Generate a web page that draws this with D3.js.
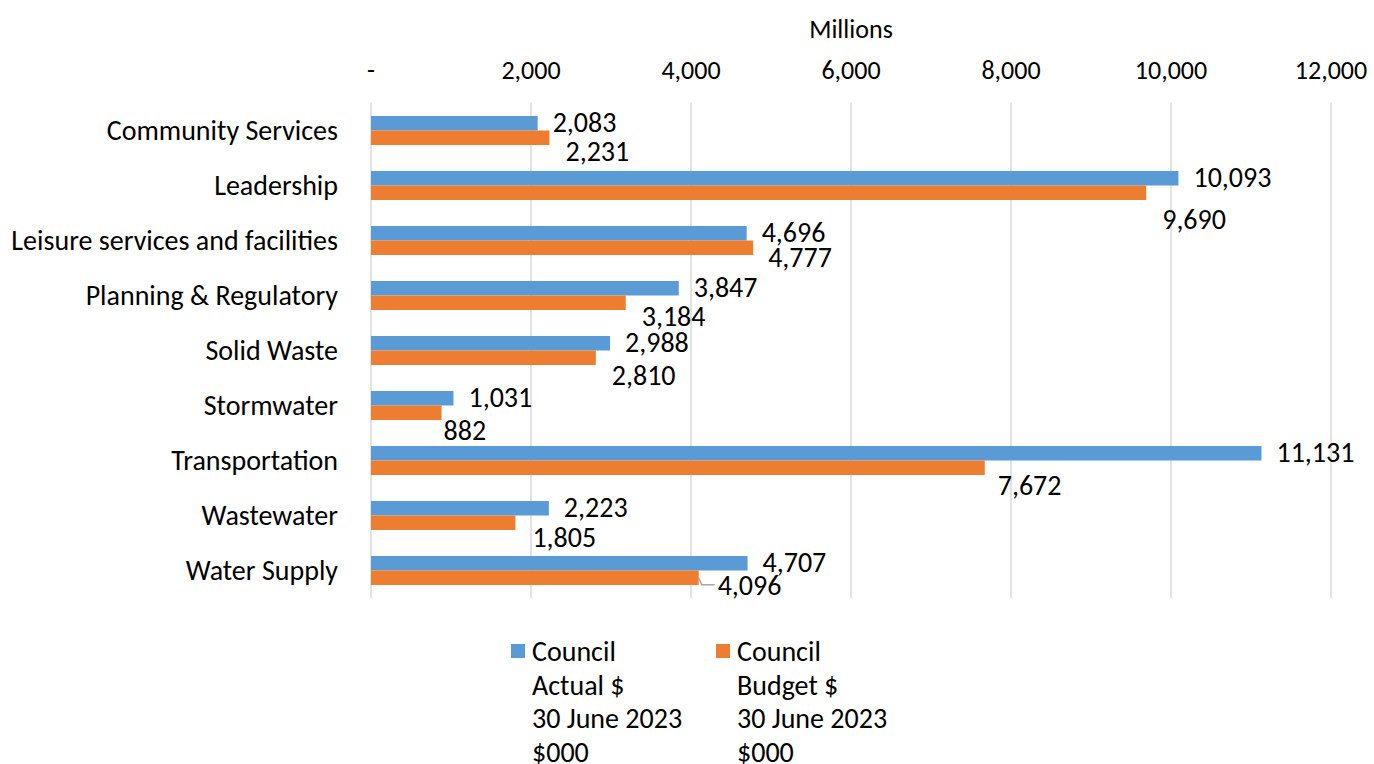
<!DOCTYPE html>
<html>
<head>
<meta charset="utf-8">
<script src="https://cdn.jsdelivr.net/npm/d3@7"></script>
<style>
  body { margin: 0; background: #fff; }
  text { font-family: Carlito, Calibri, Lato, sans-serif; fill: #000; }
</style>
</head>
<body>
<div id="container"></div>
<script>
const categories = ["Community Services", "Leadership", "Leisure services and facilities",
  "Planning & Regulatory", "Solid Waste", "Stormwater", "Transportation", "Wastewater", "Water Supply"]
const actual = [2083, 10093, 4696, 3847, 2988, 1031, 11131, 2223, 4707]
const budget = [2231, 9690, 4777, 3184, 2810, 882, 7672, 1805, 4096]
const ticks = [0, 2000, 4000, 6000, 8000, 10000, 12000]
const seriesNames = [["Council", "Actual $", "30 June 2023", "$000"], ["Council", "Budget $", "30 June 2023", "$000"]]

// hand nudges for the budget labels, like Excel's dragged labels
const budgetNudge = [[16, 13], [16, 26], [15, 9], [16, 13], [16, 17], [2, 17], [13, 17], [17, 14], [19, 7]]

const colors = ["#5B9BD5", "#ED7D31"]
const width = 1374, height = 764
const margin = { top: 103, left: 371, right: 43, bottom: 166 }
const fs = 28

const svg = d3.select('#container').append('svg').attr('width', width).attr('height', height)

const x = d3.scaleLinear().domain([0, 12000]).range([margin.left, width - margin.right])
const y = d3.scaleBand().domain(categories).range([margin.top, height - margin.bottom]).paddingInner(0).paddingOuter(0)
const barH = 14.5

const fmt = d3.format(",")

// gridlines
svg.append("g").selectAll("line").data(ticks).enter().append("line")
  .attr("x1", d => x(d)).attr("x2", d => x(d))
  .attr("y1", margin.top).attr("y2", height - margin.bottom)
  .attr("stroke", "#d9d9d9").attr("stroke-width", 1.5)

// top axis labels
svg.append("g").selectAll("text").data(ticks).enter().append("text")
  .attr("x", d => x(d)).attr("y", 79)
  .attr("text-anchor", "middle").attr("font-size", 26)
  .text(d => d === 0 ? "-" : fmt(d))

svg.append("text").attr("x", x(6000)).attr("y", 38).attr("text-anchor", "middle")
  .attr("font-size", 26).text("Millions")

// category labels
svg.append("g").selectAll("text").data(categories).enter().append("text")
  .attr("x", margin.left - 33).attr("y", d => y(d) + y.bandwidth() / 2)
  .attr("dy", "0.35em").attr("text-anchor", "end").attr("font-size", fs)
  .text(d => d)

const mid = c => y(c) + y.bandwidth() / 2

// bars
svg.append("g").selectAll("rect").data(actual).enter().append("rect")
  .attr("x", x(0)).attr("y", (d, i) => mid(categories[i]) - barH)
  .attr("width", d => x(d) - x(0)).attr("height", barH)
  .attr("fill", colors[0])

svg.append("g").selectAll("rect").data(budget).enter().append("rect")
  .attr("x", x(0)).attr("y", (d, i) => mid(categories[i]))
  .attr("width", d => x(d) - x(0)).attr("height", barH)
  .attr("fill", colors[1])

// value labels
svg.append("g").selectAll("text").data(actual).enter().append("text")
  .attr("x", d => x(d) + 15).attr("y", (d, i) => mid(categories[i]) - barH / 2 - 1)
  .attr("dy", "0.35em").attr("font-size", fs)
  .text(d => fmt(d))

svg.append("g").selectAll("text").data(budget).enter().append("text")
  .attr("x", (d, i) => x(d) + budgetNudge[i][0])
  .attr("y", (d, i) => mid(categories[i]) + barH / 2 + budgetNudge[i][1])
  .attr("dy", "0.35em").attr("font-size", fs)
  .text(d => fmt(d))

// leader line on the last budget label
const last = budget.length - 1
const ly = mid(categories[last]) + barH / 2 + budgetNudge[last][1]
svg.append("path")
  .attr("d", d3.line()([[x(budget[last]), mid(categories[last]) + barH / 2], [x(budget[last]) + 3, ly], [x(budget[last]) + 16, ly]]))
  .attr("fill", "none").attr("stroke", "#a6a6a6").attr("stroke-width", 1.5)

// legend
const legend = svg.append("g").selectAll("g").data(seriesNames).enter().append("g")
  .attr("transform", (d, i) => `translate(${511 + i * 205}, 651)`)
legend.append("rect").attr("x", 0).attr("y", -7).attr("width", 14).attr("height", 14)
  .attr("fill", (d, i) => colors[i])
legend.selectAll("text").data(d => d).enter().append("text")
  .attr("x", 21).attr("y", (d, i) => i * 33.8).attr("dy", "0.35em").attr("font-size", fs)
  .text(d => d)
</script>
</body>
</html>
